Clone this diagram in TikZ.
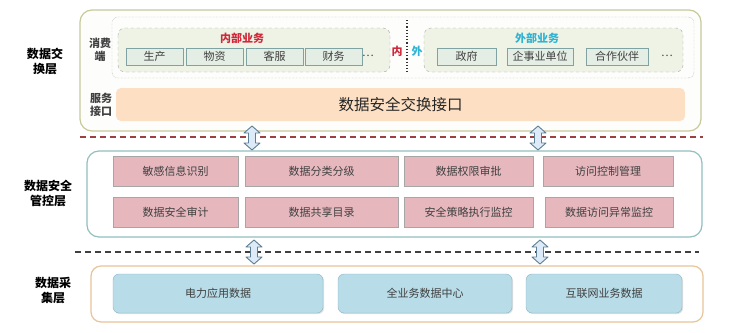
\documentclass[tikz,border=0pt]{standalone}
\usepackage{fontspec}
\setmainfont{Noto Sans CJK SC}
\usetikzlibrary{calc,shadows}

\definecolor{txtgray}{HTML}{404040}
\definecolor{olivebd}{HTML}{C8C89A}
\definecolor{tealbd}{HTML}{93BFBF}
\definecolor{orangebd}{HTML}{E8C49A}
\definecolor{greenfill}{HTML}{EEF3E6}
\definecolor{cellfill}{HTML}{E4EEE4}
\definecolor{cellbd}{HTML}{7FA3A3}
\definecolor{peach}{HTML}{FDDFC3}
\definecolor{pinkfill}{HTML}{E6B8BE}
\definecolor{bluefill}{HTML}{B8DDE8}
\definecolor{bluebd}{HTML}{8CB4C4}
\definecolor{innerred}{HTML}{D0283A}
\definecolor{outercyan}{HTML}{2FB3D3}
\definecolor{arrowfill}{HTML}{DCEBF7}
\definecolor{arrowbd}{HTML}{5F7F95}

\newcommand{\fatarrow}[2]{%
  \draw[fatarrow] (#1) -- ($(#1)+(8,7)$) -- ($(#1)+(3.5,7)$) -- ($(#2)+(3.5,-7)$)
    -- ($(#2)+(8,-7)$) -- (#2) -- ($(#2)+(-8,-7)$) -- ($(#2)+(-3.5,-7)$)
    -- ($(#1)+(-3.5,7)$) -- ($(#1)+(-8,7)$) -- cycle;}

\begin{document}
\begin{tikzpicture}[x=1pt, y=-1pt,
  every node/.style={font=\fontsize{11}{13}\selectfont, text=txtgray},
  layerlabel/.style={font=\fontsize{12}{15}\selectfont\bfseries, text=black, align=center},
  sidelabel/.style={font=\fontsize{11}{13}\selectfont\bfseries, align=center},
  cell/.style={draw=cellbd, fill=cellfill, line width=0.8pt, minimum height=17pt, inner sep=0pt},
  pinkbox/.style={draw=gray!70, fill=pinkfill, minimum height=30pt, inner sep=0pt,
    drop shadow={shadow xshift=1pt, shadow yshift=-1pt, opacity=0.25}},
  bluebox/.style={draw=bluebd, fill=bluefill, rounded corners=6pt, minimum height=39pt, inner sep=0pt,
    drop shadow={shadow xshift=1pt, shadow yshift=-1pt, opacity=0.25}},
  bizbox/.style={draw=gray!70, dashed, fill=greenfill, rounded corners=7pt},
  fatarrow/.style={draw=arrowbd, fill=arrowfill, line width=0.9pt, line join=round},
  sepline/.style={line width=1.3pt, dash pattern=on 6pt off 4pt}]

  \useasboundingbox (0,0) rectangle (730,332);
  \fill[white] (0,0) rectangle (730,332);

  % exchange layer
  \draw[draw=olivebd, fill=olivebd!3, line width=1.2pt, rounded corners=12pt] (80,10) rectangle (701,131);
  \draw[gray!80, densely dotted, rounded corners=6pt] (112,17) rectangle (694,78);
  \draw[bizbox] (118,28) rectangle (390,72);
  \draw[bizbox] (424,28) rectangle (683,72);
  \node[layerlabel] (exchlbl) at (45,61) {数据交\\换层};
  \node[sidelabel] (consumer) at (100,50) {消费\\端};
  \node[sidelabel] (service) at (101,105) {服务\\接口};

  % internal business
  \node[font=\fontsize{11}{13}\selectfont\bfseries, text=innerred] (inbiz) at (242,38) {内部业务};
  \node[cell, minimum width=57pt] (prod) at (154.5,56.5) {生产};
  \node[cell, minimum width=57pt] (goods) at (214.5,56.5) {物资};
  \node[cell, minimum width=57pt] (cust) at (274.5,56.5) {客服};
  \node[cell, minimum width=57pt] (fin) at (333.5,56.5) {财务};
  \node (indots) at (368,56) {…};

  % inner / outer split
  \node[font=\fontsize{11}{13}\selectfont\bfseries, text=innerred] (inmark) at (397,51) {内};
  \node[font=\fontsize{11}{13}\selectfont\bfseries, text=outercyan] (outmark) at (417,51) {外};
  \draw[black!80, line width=1.2pt, dotted] (407,20) -- (407,74);

  % external business
  \node[font=\fontsize{11}{13}\selectfont\bfseries, text=outercyan] (outbiz) at (537,38) {外部业务};
  \node[cell, minimum width=59pt] (gov) at (466.5,56.5) {政府};
  \node[cell, minimum width=66pt] (corp) at (540,56.5) {企事业单位};
  \node[cell, minimum width=62pt] (partner) at (617,56.5) {合作伙伴};
  \node (outdots) at (667,56) {…};

  % exchange interface
  \node[fill=peach, rounded corners=5pt, minimum width=569pt, minimum height=33pt,
    font=\fontsize{15.5}{18}\selectfont, text=black!85] (iface) at (400.5,104.5) {数据安全交换接口};

  % separator 1
  \draw[sepline, draw=red!50!black!75] (80,137) -- (703,137);

  % control layer
  \draw[draw=tealbd, fill=white, line width=1.2pt, rounded corners=12pt] (87,151) rectangle (702,237);
  \node[layerlabel] (ctrllbl) at (48,193) {数据安全\\管控层};
  \node[pinkbox, minimum width=125pt] (sens) at (175.5,171) {敏感信息识别};
  \node[pinkbox, minimum width=153pt] (grade) at (321.5,171) {数据分类分级};
  \node[pinkbox, minimum width=129pt] (perm) at (468.5,171) {数据权限审批};
  \node[pinkbox, minimum width=130pt] (access) at (608,171) {访问控制管理};
  \node[pinkbox, minimum width=125pt] (audit) at (175.5,212) {数据安全审计};
  \node[pinkbox, minimum width=153pt] (share) at (321.5,212) {数据共享目录};
  \node[pinkbox, minimum width=129pt] (policy) at (468.5,212) {安全策略执行监控};
  \node[pinkbox, minimum width=128pt] (abnorm) at (609,212) {数据访问异常监控};

  % separator 2
  \draw[sepline, draw=black!75] (75,252) -- (699,252);

  % collection layer
  \draw[draw=orangebd, fill=white, line width=1.2pt, rounded corners=10pt] (91,266) rectangle (703,322);
  \node[layerlabel] (colllbl) at (53,291) {数据采\\集层};
  \node[bluebox, minimum width=210pt] (power) at (218,293.5) {电力应用数据};
  \node[bluebox, minimum width=174pt] (center) at (425,293.5) {全业务数据中心};
  \node[bluebox, minimum width=156pt] (inet) at (604,293.5) {互联网业务数据};

  % arrows between layers
  \coordinate (up1) at (252,126);
  \coordinate (dn1) at (252,150);
  \coordinate (up2) at (538,126);
  \coordinate (dn2) at (538,150);
  \coordinate (up3) at (254,240);
  \coordinate (dn3) at (254,264);
  \coordinate (up4) at (540,240);
  \coordinate (dn4) at (540,264);
  \fatarrow{up1}{dn1}
  \fatarrow{up2}{dn2}
  \fatarrow{up3}{dn3}
  \fatarrow{up4}{dn4}
\end{tikzpicture}
\end{document}
